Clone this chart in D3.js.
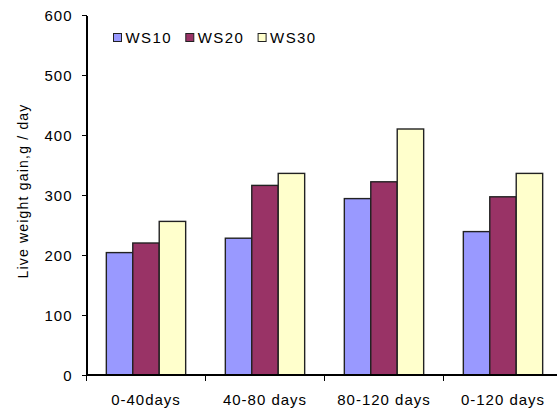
<!DOCTYPE html>
<html>
<head>
<meta charset="utf-8">
<script src="https://cdn.jsdelivr.net/npm/d3@7"></script>
<style>
  body { margin: 0; background: #fff; }
  svg { display: block; font-family: "Liberation Sans", Arial, sans-serif; }
  .axis path, .axis line { stroke: #000; stroke-width: 1.3px; shape-rendering: crispEdges; }
  .axis text { fill: #000; font-size: 15px; letter-spacing: 1px; }
</style>
</head>
<body>
<svg id="chart" width="557" height="413"></svg>
<script>
  // data
  const periods = ['0-40days', '40-80 days', '80-120 days', '0-120 days'];
  const series = ['WS10', 'WS20', 'WS30'];
  const ws10 = [204, 228, 294, 239];
  const ws20 = [220, 316, 322, 297];
  const ws30 = [256, 336, 410, 336];
  const colors = ['#9999ff', '#993366', '#ffffcc'];
  const yTicks = [0, 100, 200, 300, 400, 500, 600];

  const values = [ws10, ws20, ws30];

  const svg = d3.select('#chart');
  const plotLeft = 86.5, plotRight = 562.5, plotTop = 15, plotBottom = 375;

  const x0 = d3.scaleBand().domain(periods).range([plotLeft, plotRight]).padding(0);
  const x1 = d3.scaleBand().domain(series).range([0, x0.bandwidth()]).paddingInner(0).paddingOuter(0.75);
  const y = d3.scaleLinear().domain([0, 600]).range([plotBottom, plotTop]);
  const color = d3.scaleOrdinal().domain(series).range(colors);

  //bars
  const groups = svg.append('g').selectAll('g')
    .data(periods)
    .enter().append('g')
    .attr('transform', d => `translate(${x0(d)},0)`);

  groups.selectAll('rect')
    .data((p, i) => series.map((s, k) => ({s: s, v: values[k][i]})))
    .enter().append('rect')
    .attr('x', d => x1(d.s))
    .attr('width', x1.bandwidth())
    .attr('y', d => y(d.v))
    .attr('height', d => plotBottom - y(d.v))
    .style('fill', d => color(d.s))
    .style('stroke', '#222')
    .style('stroke-width', 1.4);

  // y axis
  const yAxis = svg.append('g')
    .attr('class', 'axis')
    .attr('transform', `translate(${plotLeft},0)`)
    .call(d3.axisLeft(y).tickValues(yTicks).tickSize(5).tickPadding(9).tickSizeOuter(0));
  yAxis.selectAll('text').attr('dy', '0.36em');

  // x axis, ticks between the groups
  const xAxis = svg.append('g')
    .attr('class', 'axis')
    .attr('transform', `translate(0,${plotBottom})`);
  xAxis.append('line')
    .attr('x1', plotLeft).attr('x2', plotRight)
    .attr('y1', 0).attr('y2', 0);
  xAxis.selectAll('.tk')
    .data(periods)
    .enter().append('line')
    .attr('class', 'tk')
    .attr('x1', d => x0(d)).attr('x2', d => x0(d))
    .attr('y1', 0).attr('y2', 6);
  xAxis.selectAll('text')
    .data(periods)
    .enter().append('text')
    .attr('x', d => x0(d) + x0.bandwidth() / 2)
    .attr('y', 30)
    .attr('text-anchor', 'middle')
    .text(d => d);

  // y title
  svg.append('text')
    .attr('transform', 'translate(28,191) rotate(-90)')
    .attr('text-anchor', 'middle')
    .style('font-size', '14px')
    .style('letter-spacing', '1.2px')
    .style('fill', '#000')
    .text('Live weight gain,g / day');

  // legend
  const legend = svg.append('g')
    .selectAll('g')
    .data(series)
    .enter().append('g')
    .attr('transform', (d, i) => `translate(${113.5 + i * 72.3},33.5)`);
  legend.append('rect')
    .attr('width', 8).attr('height', 8)
    .style('fill', d => color(d))
    .style('stroke', '#222')
    .style('stroke-width', 1);
  legend.append('text')
    .attr('x', 12)
    .attr('y', 9.5)
    .style('font-size', '15px')
    .style('letter-spacing', '1.4px')
    .style('fill', '#000')
    .text(d => d);
</script>
</body>
</html>
